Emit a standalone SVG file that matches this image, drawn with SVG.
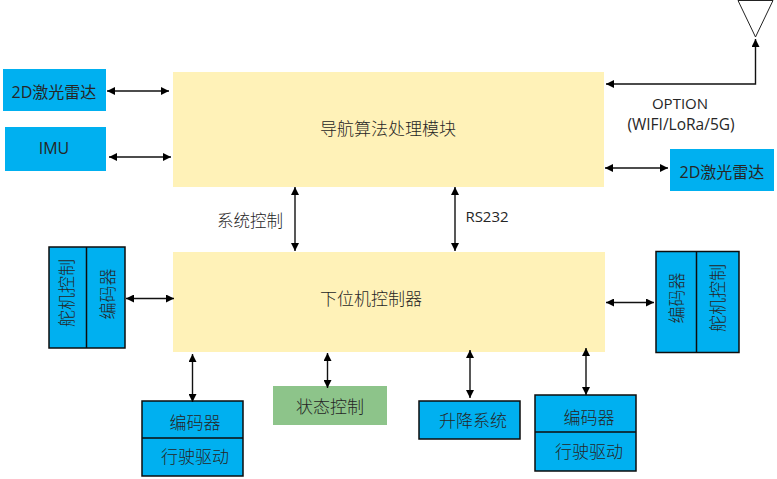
<svg xmlns="http://www.w3.org/2000/svg" width="777" height="479" viewBox="0 0 777 479">
<style>
text{font-family:"Open Sans","Noto Sans CJK SC",sans-serif;font-size:15px;fill:#262626;text-anchor:middle}
.cn{font-family:"Noto Sans CJK SC",sans-serif;font-size:17px;font-weight:300}
.mix{font-size:16px}
.blue{fill:#00b0f0}
.box{fill:#00b0f0;stroke:#0d0d0d;stroke-width:1.5}
.div{stroke:#0d0d0d;stroke-width:1.5;fill:none}
.yellow{fill:#fff2b8}
.link{stroke:#111;stroke-width:1.4;fill:none;marker-start:url(#tip);marker-end:url(#tip)}
</style>
<defs>
<marker id="tip" markerUnits="userSpaceOnUse" markerWidth="8" markerHeight="8" refX="8" refY="4" orient="auto-start-reverse"><path d="M0 0L8 4L0 8Z" fill="#000"/></marker>
</defs>
<g id="nav-module"><rect class="yellow" x="173" y="72" width="431" height="115"/><text class="cn" x="388" y="135">导航算法处理模块</text></g>
<g id="lower-controller"><rect class="yellow" x="173" y="252" width="432" height="100"/><text class="cn" x="371" y="305">下位机控制器</text></g>
<g id="lidar-left"><rect class="blue" x="3" y="69" width="103" height="42"/><text class="mix" x="54" y="98">2D激光雷达</text></g>
<g id="imu"><rect class="blue" x="5" y="127" width="101" height="44"/><text class="mix" x="54" y="154">IMU</text></g>
<g id="lidar-right"><rect class="blue" x="670" y="149" width="104" height="42"/><text class="mix" x="722" y="178">2D激光雷达</text></g>
<g id="antenna"><path d="M738 .5H773L755.500 37Z" fill="#fff" stroke="#222" stroke-width="1"/></g>
<g id="steer-left"><rect class="box" x="49" y="247" width="76" height="101"/><path class="div" d="M86.500 247V348"/>
<text class="cn" transform="translate(73 293) rotate(-90)" x="0" y="0">舵机控制</text><text class="cn" transform="translate(114 294) rotate(-90)" x="0" y="0">编码器</text></g>
<g id="steer-right"><rect class="box" x="656" y="251.500" width="83" height="101"/><path class="div" d="M696.500 251.500V352.500"/>
<text class="cn" transform="translate(683 298) rotate(-90)" x="0" y="0">编码器</text><text class="cn" transform="translate(724 298) rotate(-90)" x="0" y="0">舵机控制</text></g>
<g id="drive-left"><rect class="box" x="142" y="401" width="101" height="75"/><path class="div" d="M142 438H243"/>
<text class="cn" x="195" y="429">编码器</text><text class="cn" x="195" y="463">行驶驱动</text></g>
<g id="status"><rect x="273" y="386" width="114" height="39" fill="#8dc48a"/><text class="cn" x="330" y="413">状态控制</text></g>
<g id="lift"><rect class="box" x="419" y="401" width="101" height="38"/><text class="cn" x="473" y="427">升降系统</text></g>
<g id="drive-right"><rect class="box" x="535" y="395" width="101" height="76"/><path class="div" d="M535 432H636"/>
<text class="cn" x="589" y="424">编码器</text><text class="cn" x="589" y="458">行驶驱动</text></g>
<g id="connectors">
<path class="link" d="M107 91H169"/>
<path class="link" d="M109 157H171"/>
<path class="link" d="M605 168H668"/>
<path class="link" d="M295 187V251"/>
<path class="link" d="M455 187V251"/>
<path class="link" d="M126 298.500H174"/>
<path class="link" d="M606 302.500H654"/>
<path class="link" d="M192.500 354V402"/>
<path class="link" d="M327.500 353V388"/>
<path class="link" d="M470 350V398"/>
<path class="link" d="M586 348V395"/>
<path d="M606 84H755.500V39" fill="none" stroke="#111" stroke-width="1.400" marker-start="url(#tip)" marker-end="url(#tip)"/>
</g>
<text class="cn" x="250" y="227" style="font-size:16.500px">系统控制</text>
<text x="487" y="222">RS232</text>
<text x="680" y="109">OPTION</text>
<text x="681" y="130" style="font-size:15.500px">(WIFI/LoRa/5G)</text>
</svg>
